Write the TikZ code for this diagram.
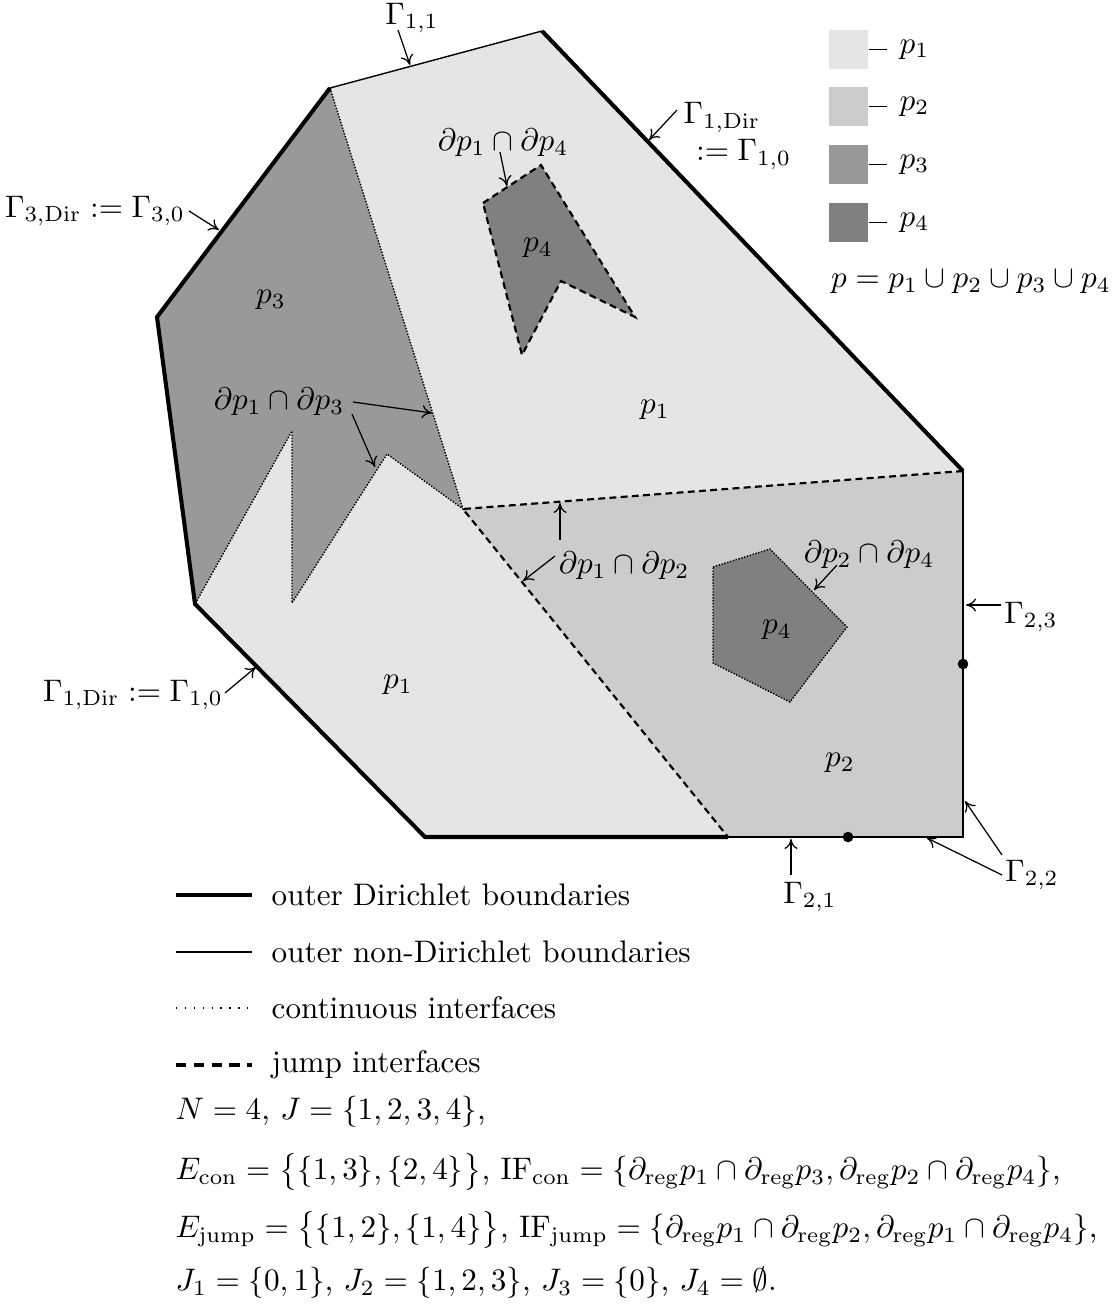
\documentclass[tikz,border=0pt]{standalone}
\usepackage{amsmath}
\usetikzlibrary{arrows.meta}
\definecolor{pone}{gray}{0.9}
\definecolor{ptwo}{gray}{0.8}
\definecolor{pthree}{gray}{0.6}
\definecolor{pfour}{gray}{0.5}
\tikzset{
  dirbd/.style={line width=1.3pt, line join=miter},
  nondirbd/.style={line width=0.45pt},
  conif/.style={line width=0.45pt, dash pattern=on 0.45pt off 0.5pt},
  jumpif/.style={line width=0.7pt, dash pattern=on 2.2pt off 1.4pt},
  lbl/.style={inner sep=1pt},
  legbox/.style={minimum size=12.5pt, inner sep=0pt},
  ptr/.style={->, line width=0.4pt},
}
\begin{document}
\begin{tikzpicture}[x=0.321pt, y=-0.321pt, >={To[length=3.2pt, width=4.2pt]}]
  \useasboundingbox (0,0) rectangle (1117,1304);
  % outer corners
  \coordinate (T1) at (330,88);
  \coordinate (T2) at (542,31);
  \coordinate (R1) at (963,471);
  \coordinate (BR) at (963,837);
  \coordinate (JB) at (728,837);
  \coordinate (BL) at (425,837);
  \coordinate (LL) at (195,604);
  \coordinate (L) at (157,317);
  % interface points
  \coordinate (J) at (463,509);
  \coordinate (S1) at (387,454);
  \coordinate (S2) at (292,603);
  \coordinate (S3) at (292,431);
  % inclusions p4
  \coordinate (a1) at (483,203);
  \coordinate (a2) at (541,165);
  \coordinate (a3) at (635,317);
  \coordinate (a4) at (561,281);
  \coordinate (a5) at (522,355);
  \coordinate (b1) at (713,567);
  \coordinate (b2) at (770,549);
  \coordinate (b3) at (847,627);
  \coordinate (b4) at (790,702);
  \coordinate (b5) at (713,663);

  % regions
  \fill[pone] (T1) -- (T2) -- (R1) -- (BR) -- (JB) -- (BL) -- (LL) -- (L) -- cycle;
  \fill[pthree] (T1) -- (J) -- (S1) -- (S2) -- (S3) -- (LL) -- (L) -- cycle;
  \fill[ptwo] (J) -- (R1) -- (BR) -- (JB) -- cycle;
  \fill[pfour] (a1) -- (a2) -- (a3) -- (a4) -- (a5) -- cycle;
  \fill[pfour] (b1) -- (b2) -- (b3) -- (b4) -- (b5) -- cycle;

  % interfaces
  \draw[conif] (T1) -- (J) -- (S1) -- (S2) -- (S3) -- (LL);
  \draw[conif] (b1) -- (b2) -- (b3) -- (b4) -- (b5) -- cycle;
  \draw[jumpif] (R1) -- (J) -- (JB);
  \draw[jumpif] (a1) -- (a2) -- (a3) -- (a4) -- (a5) -- cycle;

  % boundaries
  \draw[nondirbd] (T1) -- (T2);
  \draw[dirbd] (T2) -- (R1);
  \draw[nondirbd] (R1) -- (BR) -- (JB);
  \draw[dirbd] (JB) -- (BL) -- (LL) -- (L) -- (T1);
  \fill (963,664) circle (1.7pt);
  \fill (848,837) circle (1.7pt);

  % region names
  \node[lbl] (lp1a) at (655,410) {$p_1$};
  \node[lbl] (lp1b) at (398,685) {$p_1$};
  \node[lbl] (lp2) at (840,763) {$p_2$};
  \node[lbl] (lp3) at (271,300) {$p_3$};
  \node[lbl] (lp4a) at (538,248) {$p_4$};
  \node[lbl] (lp4b) at (777,630) {$p_4$};

  % boundary labels
  \node[lbl] (g11) at (412,18) {$\Gamma_{1,1}$};
  \coordinate (g11s) at (398,30);
  \coordinate (g11e) at (410,65);
  \draw[ptr] (g11s) -- (g11e);

  \node[lbl, anchor=west, align=left] (g1dirup) at (680,136)
    {$\Gamma_{1,\mathrm{Dir}}$\\\hspace{4pt}$:=\Gamma_{1,0}$};
  \coordinate (g1ups) at (677,110);
  \coordinate (g1upe) at (649,140);
  \draw[ptr] (g1ups) -- (g1upe);

  \node[lbl] (g3dir) at (95,211) {$\Gamma_{3,\mathrm{Dir}}:=\Gamma_{3,0}$};
  \coordinate (g3s) at (189,211);
  \coordinate (g3e) at (219,230);
  \draw[ptr] (g3s) -- (g3e);

  \node[lbl] (g1dirlo) at (133,695) {$\Gamma_{1,\mathrm{Dir}}:=\Gamma_{1,0}$};
  \coordinate (g1los) at (225,693);
  \coordinate (g1loe) at (256,667);
  \draw[ptr] (g1los) -- (g1loe);

  \node[lbl] (g23) at (1031,617) {$\Gamma_{2,3}$};
  \coordinate (g23s) at (1001,605);
  \coordinate (g23e) at (966,605);
  \draw[ptr] (g23s) -- (g23e);

  \node[lbl] (g22) at (1032,875) {$\Gamma_{2,2}$};
  \coordinate (g22s) at (1002,855);
  \coordinate (g22e) at (965,801);
  \coordinate (g22t) at (1002,875);
  \coordinate (g22f) at (927,838);
  \draw[ptr] (g22s) -- (g22e);
  \draw[ptr] (g22t) -- (g22f);

  \node[lbl] (g21) at (810,897) {$\Gamma_{2,1}$};
  \coordinate (g21s) at (791,875);
  \coordinate (g21e) at (791,839);
  \draw[ptr] (g21s) -- (g21e);

  % interface labels
  \node[lbl] (if14) at (503,143) {$\partial p_1\cap\partial p_4$};
  \coordinate (if14s) at (500,152);
  \coordinate (if14e) at (507,186);
  \draw[ptr] (if14s) -- (if14e);

  \node[lbl] (if13) at (279,402) {$\partial p_1\cap\partial p_3$};
  \coordinate (if13s) at (353,402);
  \coordinate (if13e) at (432,413);
  \coordinate (if13t) at (352,414);
  \coordinate (if13f) at (375,467);
  \draw[ptr] (if13s) -- (if13e);
  \draw[ptr] (if13t) -- (if13f);

  \node[lbl] (if12) at (624,566) {$\partial p_1\cap\partial p_2$};
  \coordinate (if12s) at (560,540);
  \coordinate (if12e) at (560,503);
  \coordinate (if12t) at (555,556);
  \coordinate (if12f) at (523,581);
  \draw[ptr] (if12s) -- (if12e);
  \draw[ptr] (if12t) -- (if12f);

  \node[lbl] (if24) at (869,555) {$\partial p_2\cap\partial p_4$};
  \coordinate (if24s) at (837,565);
  \coordinate (if24e) at (814,590);
  \draw[ptr] (if24s) -- (if24e);

  % legend of the parts
  \node[legbox, fill=pone] (box1) at (848.5,49.5) {};
  \node[legbox, fill=ptwo] (box2) at (848.5,106.5) {};
  \node[legbox, fill=pthree] (box3) at (848.5,164.5) {};
  \node[legbox, fill=pfour] (box4) at (848.5,222.5) {};
  \draw (box1.east) -- ++(18,0) node[lbl, right=3pt] (leg1) {$p_1$};
  \draw (box2.east) -- ++(18,0) node[lbl, right=3pt] (leg2) {$p_2$};
  \draw (box3.east) -- ++(18,0) node[lbl, right=3pt] (leg3) {$p_3$};
  \draw (box4.east) -- ++(18,0) node[lbl, right=3pt] (leg4) {$p_4$};
  \node[lbl] (punion) at (971,282) {$p=p_1\cup p_2\cup p_3\cup p_4$};

  % legend of the lines
  \draw[line width=1.2pt] (176,895) -- (252,895);
  \node[lbl, anchor=west] (legdir) at (268,895) {outer Dirichlet boundaries};
  \draw[line width=0.4pt] (176,952) -- (252,952);
  \node[lbl, anchor=west] (legnon) at (268,952) {outer non-Dirichlet boundaries};
  \draw[line width=0.4pt, dash pattern=on 0.45pt off 2.4pt] (176,1008) -- (252,1008);
  \node[lbl, anchor=west] (legcon) at (268,1008) {continuous interfaces};
  \draw[line width=1pt, dash pattern=on 3.3pt off 2.4pt] (176,1065) -- (252,1065);
  \node[lbl, anchor=west] (legjump) at (268,1065) {jump interfaces};

  % index sets
  \node[lbl, anchor=west] (setN) at (172,1112) {$N=4$, $J=\{1,2,3,4\}$,};
  \node[lbl, anchor=west] (setcon) at (172,1172)
    {$E_{\mathrm{con}}=\big\{\{1,3\},\{2,4\}\big\}$, $\mathrm{IF}_{\mathrm{con}}=\{\partial_{\mathrm{reg}}p_1\cap\partial_{\mathrm{reg}}p_3,\partial_{\mathrm{reg}}p_2\cap\partial_{\mathrm{reg}}p_4\}$,};
  \node[lbl, anchor=west] (setjump) at (172,1230)
    {$E_{\mathrm{jump}}=\big\{\{1,2\},\{1,4\}\big\}$, $\mathrm{IF}_{\mathrm{jump}}=\{\partial_{\mathrm{reg}}p_1\cap\partial_{\mathrm{reg}}p_2,\partial_{\mathrm{reg}}p_1\cap\partial_{\mathrm{reg}}p_4\}$,};
  \node[lbl, anchor=west] (setJ) at (172,1283)
    {$J_1=\{0,1\}$, $J_2=\{1,2,3\}$, $J_3=\{0\}$, $J_4=\emptyset$.};
\end{tikzpicture}
\end{document}
